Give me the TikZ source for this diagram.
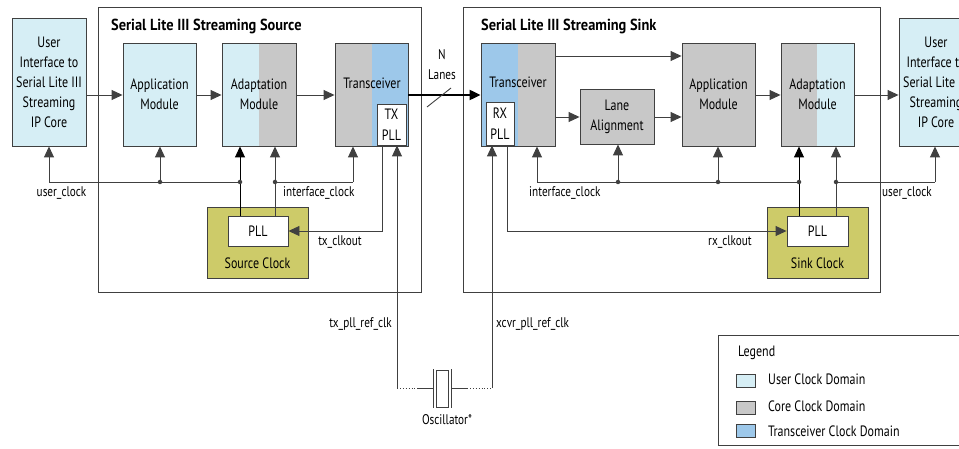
\documentclass[tikz,border=0pt]{standalone}
\usepackage{fontspec}
\setmainfont{PT Sans}[FakeStretch=0.8]
\newfontfamily\ttlfont{PT Sans}[FakeStretch=0.9]
\usetikzlibrary{arrows.meta}
\definecolor{ucd}{HTML}{D6EEF5}
\definecolor{ccd}{HTML}{C8C8C8}
\definecolor{tcd}{HTML}{9DC8EA}
\definecolor{olv}{HTML}{CDCB69}
\definecolor{ln}{HTML}{404040}
\begin{document}
\begin{tikzpicture}[x=1pt,y=-1pt,
  box/.style={draw=ln,line width=0.9pt,inner sep=0pt,align=center,font=\fontsize{15}{20}\selectfont},
  lbl/.style={inner sep=0pt,font=\fontsize{14}{16}\selectfont},
  wire/.style={draw=ln,line width=0.9pt},
  arr/.style={wire,-{Triangle[length=11pt,width=10pt]}},
  dot/.style={circle,fill=ln,inner sep=0pt,minimum size=4.5pt}]
\useasboundingbox (0,0) rectangle (959,449);
\clip (0,0) rectangle (959,449);
% outer blocks
\node[box,minimum width=323pt,minimum height=285pt] (src) at (259.5,149.5) {};
\node[box,minimum width=417pt,minimum height=285pt] (snk) at (671.5,149.5) {};
\node[lbl,anchor=west,font=\fontsize{16}{18}\ttlfont\bfseries] (srct) at (111,26) {Serial Lite III Streaming Source};
\node[lbl,anchor=west,font=\fontsize{16}{18}\ttlfont\bfseries] (snkt) at (481,26) {Serial Lite III Streaming Sink};
% user interface boxes
\node[box,fill=ucd,minimum width=74pt,minimum height=128pt] (ui1) at (49,82) {User\\Interface to\\Serial Lite III\\Streaming\\IP Core};
\node[box,fill=ucd,minimum width=74pt,minimum height=128pt] (ui2) at (936,82) {User\\Interface to\\Serial Lite III\\Streaming\\IP Core};
% source modules
\node[box,fill=ucd,minimum width=73pt,minimum height=103pt] (app1) at (159.5,94.5) {Application\\Module};
\fill[ucd] (222,43) rectangle (259,146);
\fill[ccd] (259,43) rectangle (296,146);
\node[box,minimum width=74pt,minimum height=103pt] (ad1) at (259,94.5) {Adaptation\\Module};
\fill[ccd] (335,43) rectangle (372,146);
\fill[tcd] (372,43) rectangle (408,146);
\node[box,minimum width=73pt,minimum height=103pt] (trx1) at (371.5,94.5) {};
\node[lbl,font=\fontsize{15}{17}\selectfont] (trx1t) at (372,83) {Transceiver};
\node[box,fill=white,minimum width=29pt,minimum height=41pt,font=\fontsize{15}{21}\selectfont] (txpll) at (391.5,124.5) {TX\\PLL};
% sink modules
\fill[tcd] (481,43) rectangle (518,146);
\fill[ccd] (518,43) rectangle (555,146);
\node[box,minimum width=74pt,minimum height=103pt] (trx2) at (518,94.5) {};
\node[lbl,font=\fontsize{15}{17}\selectfont] (trx2t) at (518,82) {Transceiver};
\node[box,fill=white,minimum width=28pt,minimum height=43pt,font=\fontsize{15}{21}\selectfont] (rxpll) at (500,123.5) {RX\\PLL};
\node[box,fill=ccd,minimum width=74pt,minimum height=55pt] (lane) at (617,116.5) {Lane\\Alignment};
\node[box,fill=ccd,minimum width=73pt,minimum height=103pt] (app2) at (718.5,94.5) {Application\\Module};
\fill[ccd] (781,43) rectangle (817,146);
\fill[ucd] (817,43) rectangle (854,146);
\node[box,minimum width=73pt,minimum height=103pt] (ad2) at (817.5,94.5) {Adaptation\\Module};
% clock boxes
\node[box,fill=olv,minimum width=101pt,minimum height=71pt] (sclk) at (257.5,242.5) {};
\node[lbl,font=\fontsize{15}{17}\selectfont] (sclkt) at (257.5,263) {Source Clock};
\node[box,fill=white,minimum width=60pt,minimum height=30pt] (pll1) at (258,231) {PLL};
\node[box,fill=olv,minimum width=101pt,minimum height=71pt] (kclk) at (817.5,242.5) {};
\node[lbl,font=\fontsize{15}{17}\selectfont] (kclkt) at (817.5,263) {Sink Clock};
\node[box,fill=white,minimum width=61pt,minimum height=30pt] (pll2) at (817.5,231) {PLL};
% data path
\coordinate (y95) at (0,95);
\coordinate (y56) at (0,56);
\coordinate (y117) at (0,117);
\draw[arr] (ui1.east |- y95) -- (app1.west |- y95);
\draw[arr] (app1.east |- y95) -- (ad1.west |- y95);
\draw[arr] (ad1.east |- y95) -- (trx1.west |- y95);
\draw[draw=black,line width=2.2pt,-{Triangle[length=11pt,width=10pt]}] (trx1.east |- y95) -- (trx2.west |- y95);
\coordinate (sl1) at (427,107);
\coordinate (sl2) at (451,88);
\draw[wire] (sl1) -- (sl2);
\node[lbl] (nl) at (442,55) {N};
\node[lbl] (nl2) at (442,75) {Lanes};
\draw[arr] (trx2.east |- y56) -- (app2.west |- y56);
\draw[arr] (trx2.east |- y117) -- (lane.west |- y117);
\draw[arr] (lane.east |- y117) -- (app2.west |- y117);
\draw[arr] (app2.east |- y95) -- (ad2.west |- y95);
\draw[arr] (ad2.east |- y95) -- (ui2.west |- y95);
% source clocks
\coordinate (ucs) at (49,182);
\coordinate (j1) at (160,182);
\coordinate (j2) at (240,182);
\coordinate (j3) at (275,182);
\coordinate (ic1) at (353,182);
\draw[wire] (ucs) -- (j2);
\draw[arr] (ucs) -- (ui1.south);
\draw[arr] (j1) -- (j1 |- app1.south);
\draw[arr,draw=black] (pll1.north -| j2) -- (j2 |- ad1.south);
\draw[arr] (pll1.north -| j3) -- (j3 |- ad1.south);
\draw[wire] (j3) -- (ic1);
\draw[arr] (ic1) -- (ic1 |- trx1.south);
\node[dot] (d1) at (j1) {};
\node[dot] (d2) at (j2) {};
\node[dot] (d3) at (j3) {};
\node[lbl] (ucl1) at (61.5,193) {user\_clock};
\node[lbl,anchor=west] (icl1) at (283,193) {interface\_clock};
\coordinate (txo) at (382,231);
\draw[arr] (txpll.south -| txo) -- (txo) -- (pll1.east);
\node[lbl] (txol) at (340,242) {tx\_clkout};
% sink clocks
\coordinate (ic2) at (537,182);
\coordinate (k1) at (618,182);
\coordinate (k2) at (718,182);
\coordinate (k3) at (799,182);
\coordinate (k4) at (836,182);
\coordinate (uc2) at (935,182);
\draw[wire] (ic2) -- (k3);
\draw[arr] (ic2) -- (ic2 |- trx2.south);
\draw[arr] (k1) -- (k1 |- lane.south);
\draw[arr] (k2) -- (k2 |- app2.south);
\draw[arr,draw=black] (pll2.north -| k3) -- (k3 |- ad2.south);
\draw[arr] (pll2.north -| k4) -- (k4 |- ad2.south);
\draw[wire] (k4) -- (uc2);
\draw[arr] (uc2) -- (uc2 |- ui2.south);
\node[dot] (e1) at (k1) {};
\node[dot] (e2) at (k2) {};
\node[dot] (e3) at (k3) {};
\node[dot] (e4) at (k4) {};
\node[lbl,anchor=west] (icl2) at (529,193) {interface\_clock};
\node[lbl,anchor=west] (ucl2) at (882,193) {user\_clock};
\coordinate (rxo) at (507,231);
\draw[arr] (rxpll.south -| rxo) -- (rxo) -- (pll2.west);
\node[lbl] (rxol) at (730,242) {rx\_clkout};
% oscillator
\node[draw=ln,line width=0.8pt,minimum width=12pt,minimum height=37pt,inner sep=0pt] (osc) at (442,388.5) {};
\coordinate (pl1a) at (433,369);
\coordinate (pl1b) at (433,408);
\coordinate (pl2a) at (451,369);
\coordinate (pl2b) at (451,408);
\draw[wire] (pl1a) -- (pl1b);
\draw[wire] (pl2a) -- (pl2b);
\coordinate (oa) at (397,388);
\coordinate (ob) at (418,388);
\coordinate (oc) at (433,388);
\coordinate (od) at (451,388);
\coordinate (oe) at (467,388);
\coordinate (of) at (492,388);
\draw[wire,dotted] (oa) -- (ob);
\draw[wire] (ob) -- (oc);
\draw[wire] (od) -- (oe);
\draw[wire,dotted] (oe) -- (of);
\draw[arr] (oa) -- (txpll.south -| oa);
\draw[arr] (of) -- (rxpll.south -| of);
\node[lbl] (oscl) at (447,420) {Oscillator*};
\node[lbl,anchor=east] (txref) at (392,324) {tx\_pll\_ref\_clk};
\node[lbl,anchor=west] (xref) at (496,324) {xcvr\_pll\_ref\_clk};
% legend
\node[draw=ln,line width=0.9pt,minimum width=241pt,minimum height=110pt,inner sep=0pt] (leg) at (838.5,390) {};
\node[lbl,anchor=west,font=\fontsize{15}{17}\selectfont] (legt) at (738,353) {Legend};
\node[draw=ln,fill=ucd,minimum width=19pt,minimum height=13pt,inner sep=0pt] (s1) at (745.5,381) {};
\node[draw=ln,fill=ccd,minimum width=19pt,minimum height=13pt,inner sep=0pt] (s2) at (745.5,407.5) {};
\node[draw=ln,fill=tcd,minimum width=19pt,minimum height=13pt,inner sep=0pt] (s3) at (745.5,431) {};
\node[lbl,anchor=west,font=\fontsize{15}{17}\selectfont] (l1) at (768,379) {User Clock Domain};
\node[lbl,anchor=west,font=\fontsize{15}{17}\selectfont] (l2) at (768,406) {Core Clock Domain};
\node[lbl,anchor=west,font=\fontsize{15}{17}\selectfont] (l3) at (768,431) {Transceiver Clock Domain};
\end{tikzpicture}
\end{document}
